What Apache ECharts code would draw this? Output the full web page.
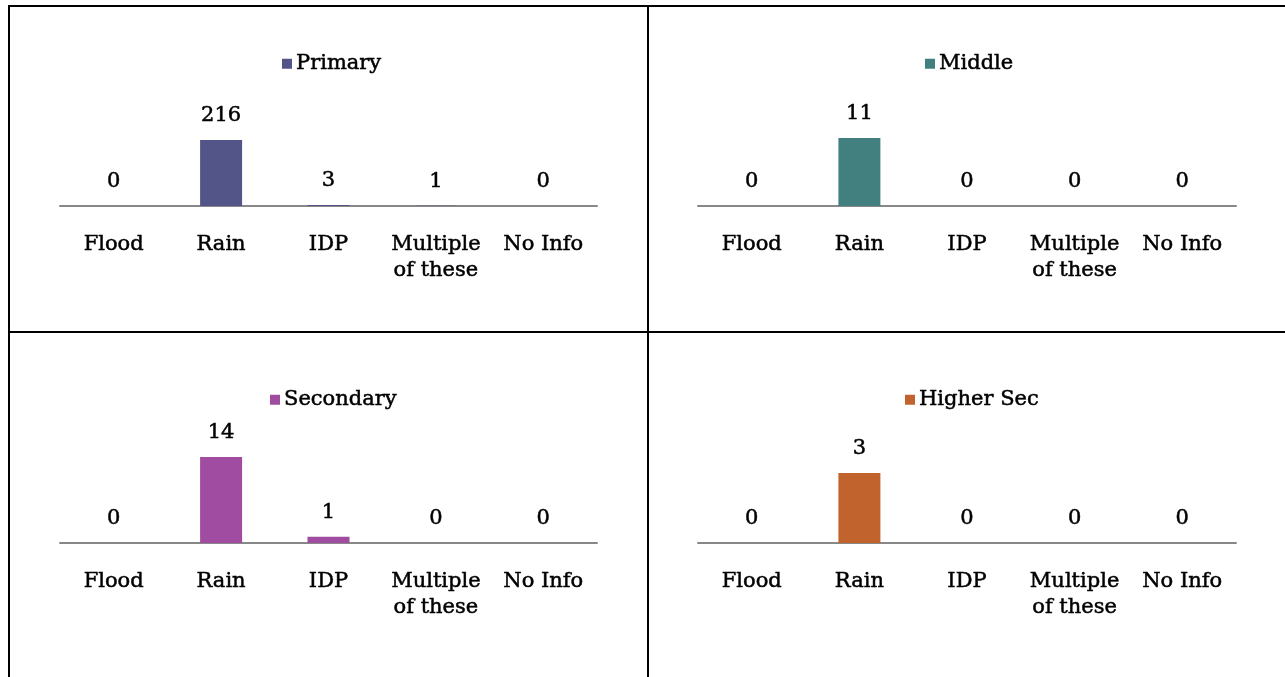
<!DOCTYPE html>
<html>
<head>
<meta charset="utf-8">
<script src="https://cdn.jsdelivr.net/npm/echarts@6/dist/echarts.min.js"></script>
<style>
html,body{margin:0;padding:0;background:#fff;}
#c{width:1285px;height:677px;}
</style>
</head>
<body>
<div id="c"></div>
<script>
const categories = ['Flood', 'Rain', 'IDP', 'Multiple\nof these', 'No Info'];
const primaryValues = [0, 216, 3, 1, 0];
const middleValues = [0, 11, 0, 0, 0];
const secondaryValues = [0, 14, 1, 0, 0];
const higherSecValues = [0, 3, 0, 0, 0];
const seriesNames = ['Primary', 'Middle', 'Secondary', 'Higher Sec'];

const FONT = 'DejaVu Serif';
const FS = 21;
const thick = {textBorderColor: '#000', textBorderWidth: 0.5};
const panels = [
  {name: seriesNames[0], data: primaryValues, color: '#535488', left: 60, width: 537, axisY: 206, max: 327, legendLeft: 282, legendTop: 53},
  {name: seriesNames[1], data: middleValues, color: '#41807F', left: 698, width: 538, axisY: 206, max: 16.2, legendLeft: 925, legendTop: 53},
  {name: seriesNames[2], data: secondaryValues, color: '#A04CA0', left: 60, width: 537, axisY: 543, max: 16.3, legendLeft: 270, legendTop: 389},
  {name: seriesNames[3], data: higherSecValues, color: '#C0632C', left: 698, width: 538, axisY: 543, max: 4.29, legendLeft: 905, legendTop: 389}
];
const H = 100;

const chart = echarts.init(document.getElementById('c'));
const option = {
  animation: false,
  backgroundColor: '#fff',
  grid: panels.map(p => ({left: p.left, width: p.width, top: p.axisY - H, height: H, containLabel: false})),
  xAxis: panels.map((p, i) => ({
    type: 'category', gridIndex: i, data: categories,
    axisLine: {show: true, lineStyle: {color: '#888888', width: 2}},
    axisTick: {show: false},
    axisLabel: Object.assign({fontFamily: FONT, fontSize: FS, color: '#000', margin: 26, lineHeight: 26, interval: 0}, thick)
  })),
  yAxis: panels.map((p, i) => ({
    type: 'value', gridIndex: i, min: 0, max: p.max, show: false, splitLine: {show: false}
  })),
  legend: panels.map(p => ({
    data: [p.name], left: p.legendLeft, top: p.legendTop, padding: 0,
    icon: 'rect', itemWidth: 10, itemHeight: 10, itemGap: 4,
    textStyle: Object.assign({fontFamily: FONT, fontSize: FS, color: '#000', padding: [0, 0, 0, -1]}, thick)
  })),
  series: panels.map((p, i) => ({
    type: 'bar', name: p.name, xAxisIndex: i, yAxisIndex: i, data: p.data,
    barWidth: 42,
    itemStyle: {color: p.color},
    label: Object.assign({show: true, position: 'top', distance: 14, fontFamily: FONT, fontSize: FS, color: '#000'}, thick)
  })),
  graphic: [
    {type: 'line', shape: {x1: 8, y1: 6, x2: 1285, y2: 6}, style: {stroke: '#000', lineWidth: 2}},
    {type: 'line', shape: {x1: 9, y1: 5, x2: 9, y2: 677}, style: {stroke: '#000', lineWidth: 2}},
    {type: 'line', shape: {x1: 648, y1: 5, x2: 648, y2: 677}, style: {stroke: '#000', lineWidth: 2}},
    {type: 'line', shape: {x1: 8, y1: 332, x2: 1285, y2: 332}, style: {stroke: '#000', lineWidth: 2}}
  ]
};
chart.setOption(option);
</script>
</body>
</html>
